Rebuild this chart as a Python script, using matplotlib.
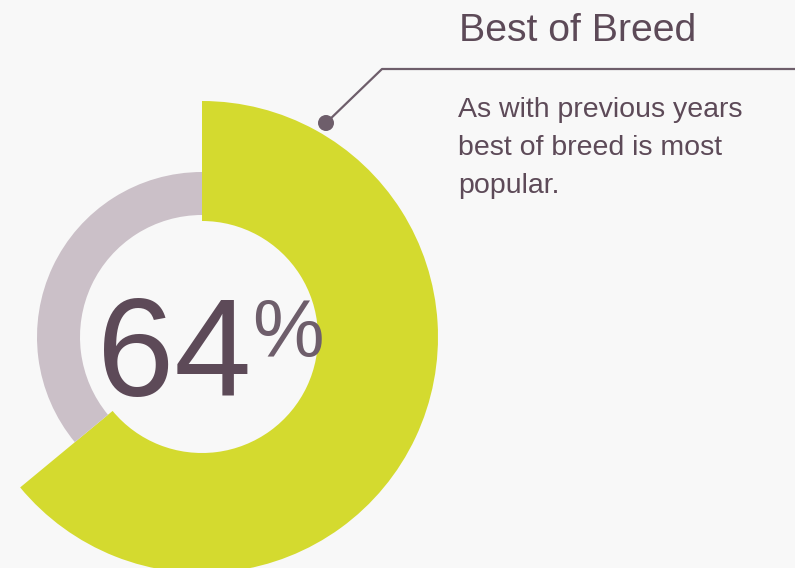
import matplotlib.pyplot as plt
from matplotlib.patches import Wedge, Circle

plt.rcParams['font.family'] = ['Liberation Sans', 'DejaVu Sans']

# Share of respondents choosing best of breed
share = 64
rest = 100 - share
title = "Best of Breed"
body_lines = ["As with previous years", "best of breed is most", "popular."]

BG = "#f8f8f8"
GREEN = "#d4da2f"
GREY = "#cbc0c8"
TEXT = "#5d4a58"
LINE = "#6e5e6b"

W, H = 795, 568
fig = plt.figure(figsize=(W / 100, H / 100), dpi=100, facecolor=BG)
ax = fig.add_axes([0, 0, 1, 1])
ax.set_xlim(0, W)
ax.set_ylim(0, H)
ax.set_aspect("equal")
ax.axis("off")

# pixel-style coordinates measured from the top edge
def py(y):
    return H - y

cx, cy = 202, py(337)
share_deg = share / 100 * 360
rest_deg = rest / 100 * 360

# main slice runs clockwise from 12 o'clock, remainder fills the rest
ax.add_patch(Wedge((cx, cy), 236, 90 - share_deg, 90, width=236 - 116,
                   facecolor=GREEN, edgecolor="none"))
ax.add_patch(Wedge((cx, cy), 165, 90, 90 + rest_deg, width=165 - 122,
                   facecolor=GREY, edgecolor="none"))

# big number in the hole
ax.text(97, py(396), f"{share}", fontsize=100, color=TEXT,
        ha="left", va="baseline")
ax.text(252, py(357), "%", fontsize=58, color=LINE,
        ha="left", va="baseline")

# leader line from the slice to the caption
ax.plot([326, 382, W], [py(123), py(69), py(69)], color=LINE, lw=1.6,
        solid_capstyle="butt")
ax.add_patch(Circle((326, py(123)), 8, facecolor=LINE, edgecolor="none"))

ax.text(459, py(41), title, fontsize=28.3, color=TEXT, ha="left", va="baseline")
for i, line in enumerate(body_lines):
    ax.text(458, py(117 + 38 * i), line, fontsize=20.5, color=TEXT,
            ha="left", va="baseline")

fig.savefig("out.png", dpi=100, facecolor=BG)
